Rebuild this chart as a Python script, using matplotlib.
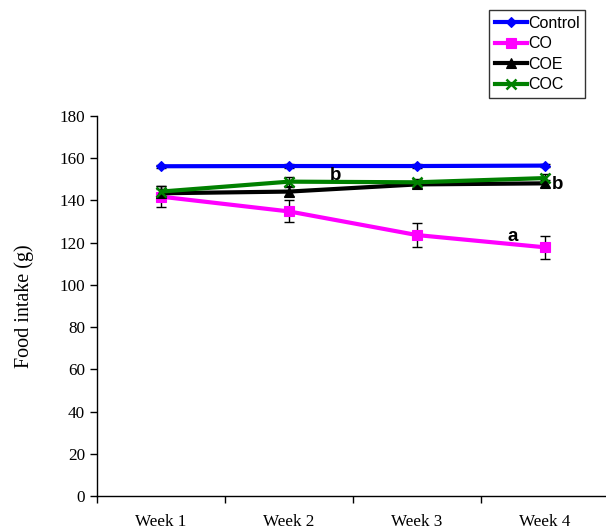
import matplotlib
matplotlib.use("Agg")
import matplotlib.pyplot as plt
import numpy as np

weeks = ["Week 1", "Week 2", "Week 3", "Week 4"]
control = [156.2, 156.3, 156.3, 156.5]
control_err = [0.8, 0.8, 0.8, 0.8]
co = [141.8, 134.8, 123.6, 117.8]
co_err = [5.0, 5.2, 5.5, 5.3]
coe = [143.4, 144.2, 147.6, 148.1]
coe_err = [2.0, 2.0, 1.5, 1.5]
coc = [144.2, 148.9, 148.6, 150.6]
coc_err = [2.5, 2.0, 1.5, 2.0]
yticks = [0, 20, 40, 60, 80, 100, 120, 140, 160, 180]

fig = plt.figure(figsize=(6.06, 5.31), dpi=100)
ax = fig.add_axes([97/606, 1-496/531, 512/606, 380/531])
x = np.arange(1, len(weeks)+1)

series = [
    ("Control", control, control_err, "#0000FF", "D", 5.5),
    ("CO", co, co_err, "#FF00FF", "s", 6.5),
    ("COE", coe, coe_err, "#000000", "^", 6.5),
    ("COC", coc, coc_err, "#008000", "x", 6.5),
]
handles = []
for name, vals, err, col, mk, ms in series:
    ax.errorbar(x, vals, yerr=err, fmt="none", ecolor="black", elinewidth=1,
                capsize=3.5, capthick=1, zorder=2)
for name, vals, err, col, mk, ms in series:
    h, = ax.plot(x, vals, color=col, lw=3, marker=mk, ms=ms,
                 markeredgewidth=1.8 if mk == "x" else 0.8,
                 markeredgecolor=col, zorder=3, label=name)
    handles.append(h)

ax.set_xlim(0.5, 4.5)
ax.set_ylim(0, 180)
ax.set_yticks(yticks)
ax.set_xticks([0.5, 1.5, 2.5, 3.5, 4.5])
ax.set_xticklabels([])
ax.set_xticks(x, minor=True)
ax.set_xticklabels(weeks, minor=True)
ax.tick_params(axis="x", which="minor", length=0, pad=13)
ax.tick_params(axis="x", which="major", length=5, direction="out", width=1)
ax.tick_params(axis="y", length=5, direction="out", width=1)
for lab in ax.get_xticklabels(minor=True) + ax.get_yticklabels():
    lab.set_fontfamily("Liberation Serif")
    lab.set_fontsize(12.3)
ax.spines["top"].set_visible(False)
ax.spines["right"].set_visible(False)
for s in ("left", "bottom"):
    ax.spines[s].set_linewidth(1)
ax.set_ylabel("Food intake (g)", fontfamily="Liberation Serif", fontsize=14.5, labelpad=18)

for tx, ty, t in [(2.36, 152, "b"), (4.1, 147.5, "b"), (3.75, 123, "a")]:
    ax.text(tx, ty, t, fontfamily="Liberation Sans", fontweight="bold", fontsize=13.5,
            ha="center", va="center")

leg = fig.legend(handles=handles, loc="upper left",
                 bbox_to_anchor=(489/606, 1-10/531), bbox_transform=fig.transFigure,
                 prop={"family": "Liberation Sans", "size": 11.5},
                 frameon=True, fancybox=False, edgecolor="black",
                 handlelength=2.0, handletextpad=0.1, borderpad=0.35,
                 labelspacing=0.35, borderaxespad=0)
leg.get_frame().set_linewidth(1)

fig.savefig("out.png", dpi=100)
